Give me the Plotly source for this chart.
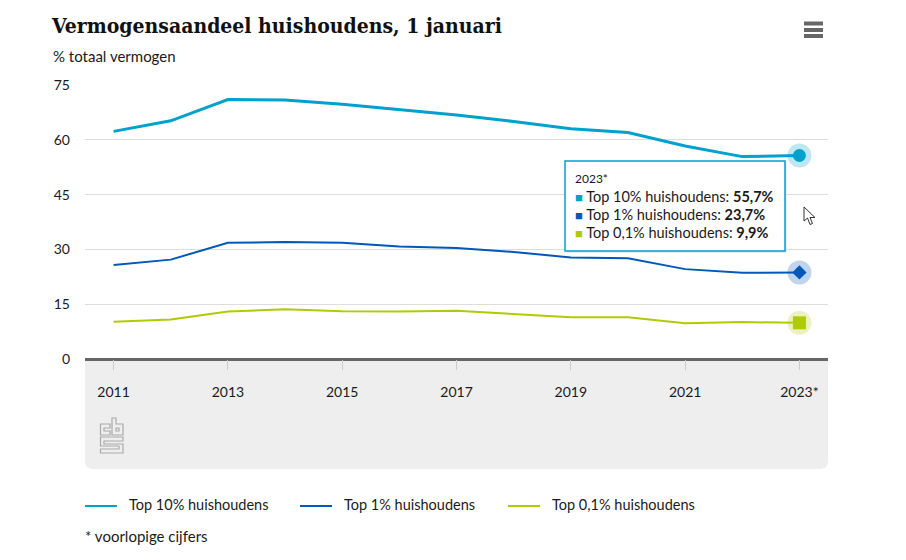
#!/usr/bin/env python3
"""Vermogensaandeel huishoudens, CBS line chart."""

import plotly.graph_objects as go

# Data
YEARS = [2011, 2012, 2013, 2014, 2015, 2016, 2017, 2018, 2019, 2020, 2021, 2022, 2023]
TOP_10 = [62.3, 65.2, 71.0, 70.9, 69.7, 68.3, 66.8, 65.0, 63.0, 62.0, 58.3, 55.4, 55.7]
TOP_1 = [25.7, 27.2, 31.8, 32.0, 31.8, 30.8, 30.4, 29.3, 27.8, 27.6, 24.6, 23.6, 23.7]
TOP_01 = [10.2, 10.8, 13.0, 13.6, 13.1, 13.0, 13.2, 12.4, 11.4, 11.4, 9.8, 10.1, 9.9]
X_TICKS = [2011, 2013, 2015, 2017, 2019, 2021, 2023]
X_LABELS = ["2011", "2013", "2015", "2017", "2019", "2021", "2023*"]
Y_TICKS = [0, 15, 30, 45, 60, 75]

SERIES = [
    ("Top 10% huishoudens", TOP_10, "#00a1cd", 3, "circle", 13, "55,7%"),
    ("Top 1% huishoudens", TOP_1, "#0058b8", 2, "diamond", 11, "23,7%"),
    ("Top 0,1% huishoudens", TOP_01, "#afcb05", 2, "square", 13, "9,9%"),
]

FONT = "Lato, 'Noto Sans', sans-serif"
TEXT = "#1a1a1a"

# Plot box in pixels
LEFT, RIGHT, TOP, BOTTOM = 85, 828, 85, 359
WIDTH, HEIGHT = 906, 560


def px(x):
    return (x - LEFT) / (RIGHT - LEFT)


def py(y):
    return (BOTTOM - y) / (BOTTOM - TOP)


def path(points, close=False):
    """SVG path from pixel points, in paper coordinates."""
    parts = [f"{'M' if i == 0 else 'L'} {px(x):.5f} {py(y):.5f}" for i, (x, y) in enumerate(points)]
    return " ".join(parts) + (" Z" if close else "")


def add_path(fig, points, close=False, fill=None, color="#aaaaaa", width=1.2, layer="above"):
    fig.add_shape(
        type="path",
        xref="paper",
        yref="paper",
        path=path(points, close),
        fillcolor=fill,
        line={"color": color, "width": width},
        layer=layer,
    )


def add_text(fig, x, y, text, size=14.5, color=TEXT):
    fig.add_annotation(
        xref="paper",
        yref="paper",
        x=px(x),
        y=py(y),
        text=text,
        showarrow=False,
        xanchor="left",
        yanchor="middle",
        align="left",
        font={"family": FONT, "size": size, "color": color},
    )


fig = go.Figure()

for name, values, color, width, symbol, size, _ in SERIES:
    fig.add_trace(
        go.Scatter(
            x=YEARS,
            y=values,
            name=name,
            mode="lines",
            line={"color": color, "width": width},
        )
    )
    # hover halo and end marker
    fig.add_trace(
        go.Scatter(
            x=YEARS[-1:],
            y=values[-1:],
            mode="markers",
            marker={"symbol": "circle", "size": 24, "color": color, "opacity": 0.25},
        )
    )
    fig.add_trace(
        go.Scatter(
            x=YEARS[-1:],
            y=values[-1:],
            mode="markers",
            marker={"symbol": symbol, "size": size, "color": color},
        )
    )

fig.update_layout(
    width=WIDTH,
    height=HEIGHT,
    margin={"l": LEFT, "r": WIDTH - RIGHT, "t": TOP, "b": HEIGHT - BOTTOM, "autoexpand": False},
    plot_bgcolor="rgba(0,0,0,0)",
    paper_bgcolor="white",
    font={"family": FONT, "size": 14, "color": TEXT},
    title={
        "text": "<b>Vermogensaandeel huishoudens, 1 januari</b>",
        "x": 52 / WIDTH,
        "xanchor": "left",
        "y": 1 - 26 / HEIGHT,
        "yanchor": "middle",
        "font": {"family": "'DejaVu Serif Condensed', 'DejaVu Serif', serif", "size": 21, "color": "#111111"},
    },
    showlegend=False,
    xaxis={
        "range": [2010.5, 2023.5],
        "tickmode": "array",
        "tickvals": X_TICKS,
        "ticktext": X_LABELS,
        "ticks": "outside",
        "ticklen": 10,
        "tickcolor": "#cccccc",
        "ticklabelstandoff": 10,
        "showgrid": False,
        "zeroline": False,
        "showline": False,
    },
    yaxis={
        "range": [0, 75],
        "tickmode": "array",
        "tickvals": Y_TICKS,
        "gridcolor": "#dddddd",
        "gridwidth": 1,
        "zeroline": True,
        "zerolinecolor": "#666666",
        "zerolinewidth": 3,
        "ticks": "",
        "ticklabelstandoff": 14,
    },
)

# grey panel under the axis, rounded at the bottom
r = 6
add_path(
    fig,
    [
        (LEFT, BOTTOM),
        (RIGHT, BOTTOM),
        (RIGHT, 469 - r),
        (RIGHT - 2, 469 - 2),
        (RIGHT - r, 469),
        (LEFT + r, 469),
        (LEFT + 2, 469 - 2),
        (LEFT, 469 - r),
    ],
    close=True,
    fill="#eeeeee",
    color="#eeeeee",
    width=0,
    layer="below",
)

# CBS logo
add_path(
    fig,
    [(110, 424), (100.5, 424), (100.5, 435), (110, 435), (110, 431), (104, 431), (104, 428), (110, 428)],
    close=True,
)
add_path(fig, [(112, 418), (116, 418), (116, 424), (123, 424), (123, 435), (112, 435)], close=True)
add_path(fig, [(116, 428), (119, 428), (119, 431), (116, 431)], close=True)
add_path(
    fig,
    [
        (123, 437),
        (100.5, 437),
        (100.5, 446),
        (119, 446),
        (119, 449),
        (100.5, 449),
        (100.5, 453),
        (123, 453),
        (123, 444),
        (104, 444),
        (104, 441),
        (123, 441),
    ],
    close=True,
)

# menu icon
for y in (23.5, 30, 36):
    add_path(fig, [(804, y), (823, y)], color="#666666", width=4)

# tooltip
add_path(
    fig,
    [(566.5, 162.5), (786.5, 162.5), (786.5, 252.5), (566.5, 252.5)],
    close=True,
    fill="#dddddd",
    color="#dddddd",
    width=0,
)
add_path(
    fig,
    [(565, 161), (785, 161), (785, 251), (565, 251)],
    close=True,
    fill="white",
    color="#00a1cd",
    width=1.5,
)
add_text(fig, 573, 178, "2023*", size=12)
for (name, _, color, _, _, _, label), y in zip(SERIES, (196, 214, 232)):
    add_text(
        fig,
        573,
        y,
        f"<span style='color:{color};font-size:13px'>■</span> {name}: <b>{label}</b>",
    )

# mouse pointer
add_path(
    fig,
    [(804, 207), (804, 221), (807.5, 218), (810, 224.5), (812.5, 223.5), (810, 217.5), (815, 217.5)],
    close=True,
    fill="white",
    color="#333333",
    width=1,
)

# legend
for (name, _, color, _, _, _, _), x in zip(SERIES, (85, 300, 508)):
    add_path(fig, [(x, 506), (x + 32, 506)], color=color, width=2)
    add_text(fig, x + 42, 504, name)

add_text(fig, 51, 56, "% totaal vermogen", size=15)
add_text(fig, 83, 536, "* voorlopige cijfers", size=15)

fig.write_html(
    "out.html",
    config={"displayModeBar": False},
    post_script="document.body.style.margin='0';",
)
